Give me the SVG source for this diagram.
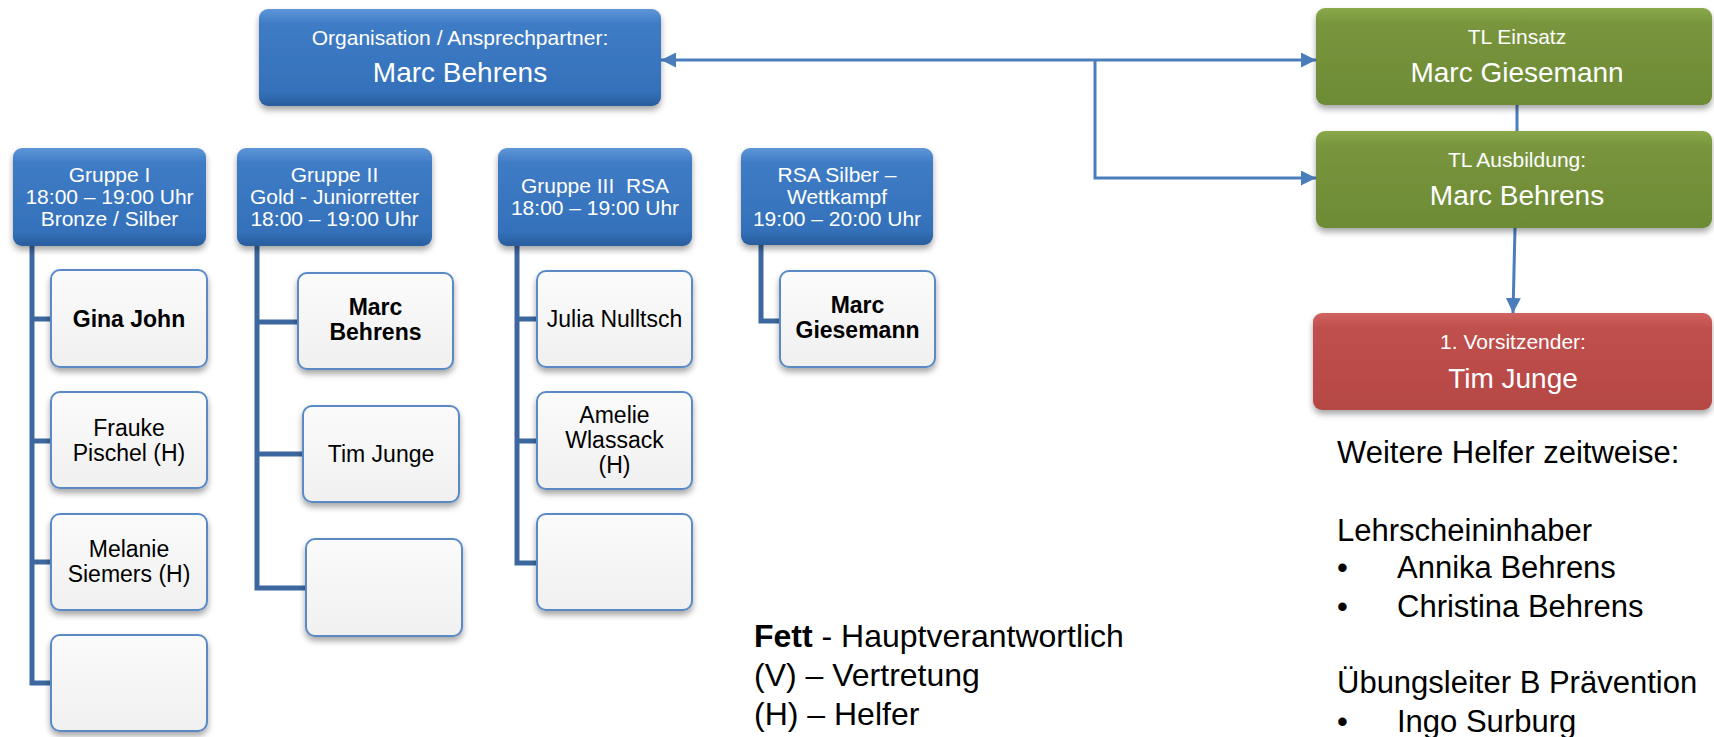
<svg xmlns="http://www.w3.org/2000/svg" width="1714" height="737" viewBox="0 0 1714 737">
  <defs>
    <linearGradient id="gBlue" x1="0" y1="0" x2="0" y2="1">
      <stop offset="0" stop-color="#5f96d8"/>
      <stop offset="0.15" stop-color="#3f7cc6"/>
      <stop offset="0.85" stop-color="#3471ba"/>
      <stop offset="1" stop-color="#295d9d"/>
    </linearGradient>
    <linearGradient id="gGreen" x1="0" y1="0" x2="0" y2="1">
      <stop offset="0" stop-color="#8aa94a"/>
      <stop offset="0.15" stop-color="#79963d"/>
      <stop offset="1" stop-color="#6d8a35"/>
    </linearGradient>
    <linearGradient id="gRed" x1="0" y1="0" x2="0" y2="1">
      <stop offset="0" stop-color="#d0625f"/>
      <stop offset="0.15" stop-color="#c0504d"/>
      <stop offset="1" stop-color="#b54744"/>
    </linearGradient>
    <linearGradient id="gGray" x1="0" y1="0" x2="0" y2="1">
      <stop offset="0" stop-color="#fbfbfb"/>
      <stop offset="1" stop-color="#f0f0f0"/>
    </linearGradient>
    <filter id="shadow" x="-10%" y="-10%" width="120%" height="140%">
      <feDropShadow dx="0" dy="4" stdDeviation="3" flood-color="#000" flood-opacity="0.35"/>
    </filter>
    <marker id="arr" viewBox="0 0 10 10" refX="10" refY="5" markerWidth="15" markerHeight="15" markerUnits="userSpaceOnUse" orient="auto-start-reverse">
      <path d="M0,0 L10,5 L0,10 z" fill="#4a7ebb"/>
    </marker>
  </defs>
  <style>
    .hdr { fill: url(#gBlue); filter: url(#shadow); }
    .grn { fill: url(#gGreen); filter: url(#shadow); }
    .red { fill: url(#gRed); filter: url(#shadow); }
    .child { fill: url(#gGray); stroke: #5a8ac6; stroke-width: 2; filter: url(#shadow); }
    .tree { fill: none; stroke: #3c689f; stroke-width: 5; stroke-linejoin: miter; }
    .arrow { fill: none; stroke: #4a7ebb; stroke-width: 3; }
    text { font-family: "Liberation Sans", Arial, sans-serif; text-anchor: middle; }
    .wt { fill: #ffffff; font-size: 21px; }
    .wl { fill: #ffffff; font-size: 28px; }
    .bt { fill: #000000; font-size: 23px; }
    .bb { fill: #000000; font-size: 23px; font-weight: bold; }
    .plain { fill: #000000; font-size: 31px; text-anchor: start; }
    .leg { fill: #000000; font-size: 32px; text-anchor: start; }
  </style>

  <g id="connectors">
    <path class="tree" d="M32 245 V683 H51 M32 319 H51 M32 441 H51 M32 562 H51"/>
    <path class="tree" d="M257 246 V588 H306 M257 322 H298 M257 454 H303"/>
    <path class="tree" d="M517 246 V563 H537 M517 319 H537 M517 441 H537"/>
    <path class="tree" d="M761 245 V321 H780"/>
    <path class="arrow" d="M661 60 H1316" marker-start="url(#arr)" marker-end="url(#arr)"/>
    <path class="arrow" d="M1095 60 V178 H1316" marker-end="url(#arr)"/>
    <path class="arrow" d="M1517 105 V131"/>
    <path class="arrow" d="M1515 228 L1513 313" marker-end="url(#arr)"/>
  </g>

  <g id="node-org">
    <rect class="hdr" x="259" y="9" width="402" height="97" rx="9"/>
    <text class="wt" x="460" y="45">Organisation / Ansprechpartner:</text>
    <text class="wl" x="460" y="82">Marc Behrens</text>
  </g>

  <g id="node-tl-einsatz">
    <rect class="grn" x="1316" y="8" width="396" height="97" rx="9"/>
    <text class="wt" x="1517" y="44">TL Einsatz</text>
    <text class="wl" x="1517" y="82">Marc Giesemann</text>
  </g>
  <g id="node-tl-ausbildung">
    <rect class="grn" x="1316" y="131" width="396" height="97" rx="9"/>
    <text class="wt" x="1517" y="167">TL Ausbildung:</text>
    <text class="wl" x="1517" y="205">Marc Behrens</text>
  </g>
  <g id="node-vorsitzender">
    <rect class="red" x="1313" y="313" width="399" height="97" rx="9"/>
    <text class="wt" x="1513" y="349">1. Vorsitzender:</text>
    <text class="wl" x="1513" y="388">Tim Junge</text>
  </g>

  <g id="node-gruppe1">
    <rect class="hdr" x="13" y="148" width="193" height="98" rx="9"/>
    <text class="wt" x="109.5" y="182">Gruppe I</text>
    <text class="wt" x="109.5" y="204">18:00 – 19:00 Uhr</text>
    <text class="wt" x="109.5" y="226">Bronze / Silber</text>
  </g>
  <g id="node-gruppe2">
    <rect class="hdr" x="237" y="148" width="195" height="98" rx="9"/>
    <text class="wt" x="334.5" y="182">Gruppe II</text>
    <text class="wt" x="334.5" y="204">Gold - Juniorretter</text>
    <text class="wt" x="334.5" y="226">18:00 – 19:00 Uhr</text>
  </g>
  <g id="node-gruppe3">
    <rect class="hdr" x="498" y="148" width="194" height="98" rx="9"/>
    <text class="wt" x="595" y="193" xml:space="preserve">Gruppe III  RSA</text>
    <text class="wt" x="595" y="215">18:00 – 19:00 Uhr</text>
  </g>
  <g id="node-rsa-silber">
    <rect class="hdr" x="741" y="148" width="192" height="97" rx="9"/>
    <text class="wt" x="837" y="182">RSA Silber –</text>
    <text class="wt" x="837" y="204">Wettkampf</text>
    <text class="wt" x="837" y="226">19:00 – 20:00 Uhr</text>
  </g>

  <g id="node-gina-john">
    <rect class="child" x="51" y="270" width="156" height="97" rx="9"/>
    <text class="bb" x="129" y="327">Gina John</text>
  </g>
  <g id="node-frauke-pischel">
    <rect class="child" x="51" y="392" width="156" height="96" rx="9"/>
    <text class="bt" x="129" y="436">Frauke</text>
    <text class="bt" x="129" y="461">Pischel (H)</text>
  </g>
  <g id="node-melanie-siemers">
    <rect class="child" x="51" y="514" width="156" height="96" rx="9"/>
    <text class="bt" x="129" y="557">Melanie</text>
    <text class="bt" x="129" y="582">Siemers (H)</text>
  </g>
  <g id="node-g1-empty">
    <rect class="child" x="51" y="635" width="156" height="96" rx="9"/>
  </g>

  <g id="node-marc-behrens">
    <rect class="child" x="298" y="273" width="155" height="96" rx="9"/>
    <text class="bb" x="375.5" y="315">Marc</text>
    <text class="bb" x="375.5" y="340">Behrens</text>
  </g>
  <g id="node-tim-junge">
    <rect class="child" x="303" y="406" width="156" height="96" rx="9"/>
    <text class="bt" x="381" y="462">Tim Junge</text>
  </g>
  <g id="node-g2-empty">
    <rect class="child" x="306" y="539" width="156" height="97" rx="9"/>
  </g>

  <g id="node-julia-nulltsch">
    <rect class="child" x="537" y="271" width="155" height="96" rx="9"/>
    <text class="bt" x="614.5" y="327">Julia Nulltsch</text>
  </g>
  <g id="node-amelie-wlassack">
    <rect class="child" x="537" y="392" width="155" height="97" rx="9"/>
    <text class="bt" x="614.5" y="423">Amelie</text>
    <text class="bt" x="614.5" y="448">Wlassack</text>
    <text class="bt" x="614.5" y="473">(H)</text>
  </g>
  <g id="node-g3-empty">
    <rect class="child" x="537" y="514" width="155" height="96" rx="9"/>
  </g>

  <g id="node-marc-giesemann">
    <rect class="child" x="780" y="271" width="155" height="96" rx="9"/>
    <text class="bb" x="857.5" y="313">Marc</text>
    <text class="bb" x="857.5" y="338">Giesemann</text>
  </g>

  <g id="legend">
    <text class="leg" x="754" y="647"><tspan font-weight="bold">Fett</tspan> - Hauptverantwortlich</text>
    <text class="leg" x="754" y="686">(V) – Vertretung</text>
    <text class="leg" x="754" y="725">(H) – Helfer</text>
  </g>

  <g id="helpers">
    <text class="plain" x="1337" y="463">Weitere Helfer zeitweise:</text>
    <text class="plain" x="1337" y="541">Lehrscheininhaber</text>
    <text class="plain" x="1337" y="578">•</text>
    <text class="plain" x="1397" y="578">Annika Behrens</text>
    <text class="plain" x="1337" y="617">•</text>
    <text class="plain" x="1397" y="617">Christina Behrens</text>
    <text class="plain" x="1337" y="693">Übungsleiter B Prävention</text>
    <text class="plain" x="1337" y="732">•</text>
    <text class="plain" x="1397" y="732">Ingo Surburg</text>
  </g>
</svg>
